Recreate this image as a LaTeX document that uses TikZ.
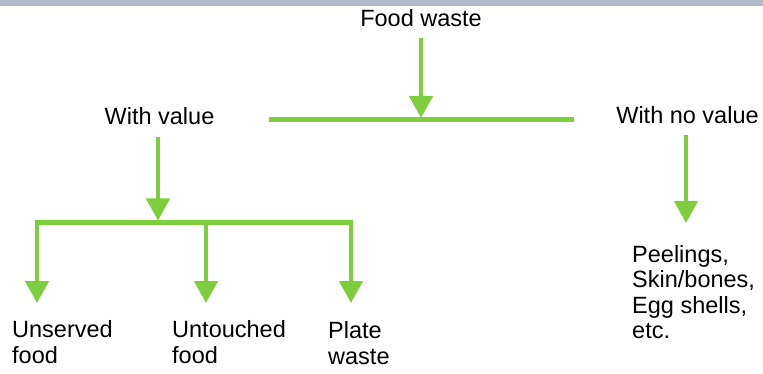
\documentclass[tikz,border=0pt]{standalone}
\usepackage{fontspec}
\setmainfont{Liberation Sans}
\usetikzlibrary{arrows.meta}
\definecolor{leafgreen}{RGB}{125,205,60}
\definecolor{topbar}{RGB}{180,186,201}
\begin{document}
\begin{tikzpicture}[x=1pt,y=-1pt,
  lbl/.style={font=\fontsize{23.5}{26}\selectfont, inner sep=0pt, text=black},
  conn/.style={draw=leafgreen, line width=4.5pt},
  arr/.style={conn, -{Triangle[length=22pt,width=23pt]}}]
\useasboundingbox (0,0) rectangle (763,374);
\fill[topbar] (0,0) rectangle (763,6);
% text nodes
\node[lbl, anchor=base] (food) at (421,27) {Food waste};
\node[lbl, anchor=base] (withv) at (159.5,125) {With value};
\node[lbl, anchor=base] (nov) at (687.5,124) {With no value};
\node[lbl, anchor=north west, align=left] (uns) at (12,320) {Unserved\\food};
\node[lbl, anchor=north west, align=left] (unt) at (172,320) {Untouched\\food};
\node[lbl, anchor=north west, align=left] (plate) at (328,321) {Plate\\waste};
\node[lbl, anchor=north west, align=left, font=\fontsize{23.5}{25.5}\selectfont] (peel) at (632,245) {Peelings,\\Skin/bones,\\Egg shells,\\etc.};
% junction coordinates
\coordinate (barL) at (269,120);
\coordinate (barR) at (574,120);
\coordinate (barTop) at (421,118);
\coordinate (b2L) at (37,222.5);
\coordinate (b2M) at (206,222.5);
\coordinate (b2R) at (351,222.5);
\coordinate (b2Top) at (158,220.5);
\coordinate (t1) at (37,303);
\coordinate (t2) at (206,303);
\coordinate (t3) at (351,303);
\coordinate (nvTop) at (686,135);
\coordinate (nvTip) at (686,223);
% connectors
\draw[conn, line width=5pt] (barL) -- (barR);
\draw[arr] ([yshift=-11pt]food.south) -- (barTop);
\draw[arr] ([yshift=-12pt]withv.south -| b2Top) -- (b2Top);
\draw[conn, line join=miter, {Triangle[length=22pt,width=23pt]}-{Triangle[length=22pt,width=23pt]}] (t1) -- (b2L) -- (b2R) -- (t3);
\draw[arr] (b2M) -- (t2);
\draw[arr] (nvTop) -- (nvTip);
\end{tikzpicture}
\end{document}
